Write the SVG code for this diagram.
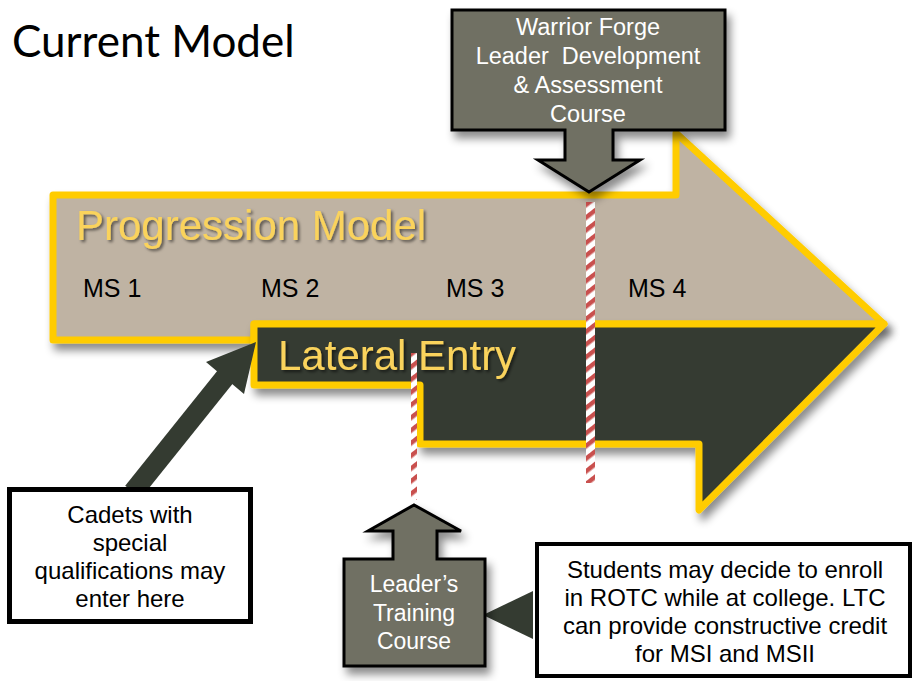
<svg xmlns="http://www.w3.org/2000/svg" width="914" height="681" viewBox="0 0 914 681">
<defs>
<style>
.band{stroke:#FFCC00;stroke-width:7;stroke-linejoin:round}
.callout{fill:#707063;stroke:#000;stroke-width:3;stroke-linejoin:miter}
.box{fill:#fff;stroke:#000}
.wt{font-family:"Liberation Sans",Arial,sans-serif;fill:#fff;text-anchor:middle;white-space:pre}
.bt{font-family:"Liberation Sans",Arial,sans-serif;fill:#000;text-anchor:middle;font-size:24px}
.ms{font-family:"Liberation Sans",Arial,sans-serif;fill:#000;font-size:25px}
.big{font-family:"Liberation Sans",Arial,sans-serif;fill:#FAD35C;font-size:42px}
.dark{fill:#343B31}
</style>
<filter id="sh" x="-10%" y="-10%" width="130%" height="130%">
<feDropShadow dx="4" dy="7" stdDeviation="4" flood-color="#000" flood-opacity="0.45"/>
</filter>
<filter id="tsh" x="-5%" y="-20%" width="115%" height="150%">
<feDropShadow dx="2" dy="2" stdDeviation="1.5" flood-color="#000" flood-opacity="0.55"/>
</filter>
<pattern id="stripe" patternUnits="userSpaceOnUse" width="10" height="10" patternTransform="rotate(-38)">
<rect width="10" height="10" fill="#fff"/>
<rect width="10" height="4.5" fill="#C9504E"/>
</pattern>
</defs>
<rect width="914" height="681" fill="#fff"/>

<g id="title">
<text x="12" y="57" font-family="Lato,'Open Sans',sans-serif" font-size="44" fill="#000">Current Model</text>
</g>

<g id="progression-model">
<polygon class="band" fill="#BFB3A3" filter="url(#sh)" points="53,195 676,195 676,133 884,324 254,324 254,340 53,340"/>
<text class="big" x="76" y="240" filter="url(#tsh)">Progression Model</text>
<text class="ms" x="83" y="297">MS 1</text>
<text class="ms" x="261" y="297">MS 2</text>
<text class="ms" x="446" y="297">MS 3</text>
<text class="ms" x="628" y="297">MS 4</text>
</g>

<g id="lateral-entry">
<polygon class="band" fill="#343B31" filter="url(#sh)" points="254,324 884,324 699,510 699,444 420,444 420,385 254,385"/>
<text class="big" x="278" y="370" filter="url(#tsh)">Lateral Entry</text>
</g>

<g id="milestones">
<rect x="586" y="202" width="9" height="281" fill="url(#stripe)"/>
<rect x="411" y="353" width="6" height="147" fill="url(#stripe)"/>
</g>

<g id="connectors">
<line x1="133" y1="492" x2="226" y2="376" stroke="#343B31" stroke-width="20"/>
<polygon class="dark" points="206,362 244,394 256,342"/>
<polygon class="dark" points="483,615 533,591 533,639"/>
</g>

<g id="warrior-forge">
<polygon class="callout" filter="url(#sh)" points="452,10 725,10 725,130 613,130 613,160 640,160 589,192 538,160 565,160 565,130 452,130"/>
<text class="wt" x="588" y="35" font-size="23.5">Warrior Forge</text>
<text class="wt" x="588" y="64" font-size="23.5">Leader  Development</text>
<text class="wt" x="588" y="93" font-size="23.5">&amp; Assessment</text>
<text class="wt" x="588" y="122" font-size="23.5">Course</text>
</g>

<g id="leaders-training-course">
<polygon class="callout" stroke-width="2.5" filter="url(#sh)" points="344,559 393,559 393,531 368,531 414,505 461,531 437,531 437,559 485,559 485,666 344,666"/>
<text class="wt" x="414" y="592" font-size="23">Leader’s</text>
<text class="wt" x="414" y="621" font-size="23">Training</text>
<text class="wt" x="414" y="649" font-size="23">Course</text>
</g>

<g id="cadets">
<rect class="box" x="9.5" y="489.5" width="241" height="132" stroke-width="5"/>
<text class="bt" x="130" y="523">Cadets with</text>
<text class="bt" x="130" y="551">special</text>
<text class="bt" x="130" y="579">qualifications may</text>
<text class="bt" x="130" y="607">enter here</text>
</g>

<g id="students">
<rect class="box" x="537" y="544" width="373" height="132" stroke-width="4"/>
<text class="bt" x="725" y="578">Students may decide to enroll</text>
<text class="bt" x="725" y="606">in ROTC while at college. LTC</text>
<text class="bt" x="725" y="634">can provide constructive credit</text>
<text class="bt" x="725" y="662">for MSI and MSII</text>
</g>
</svg>
